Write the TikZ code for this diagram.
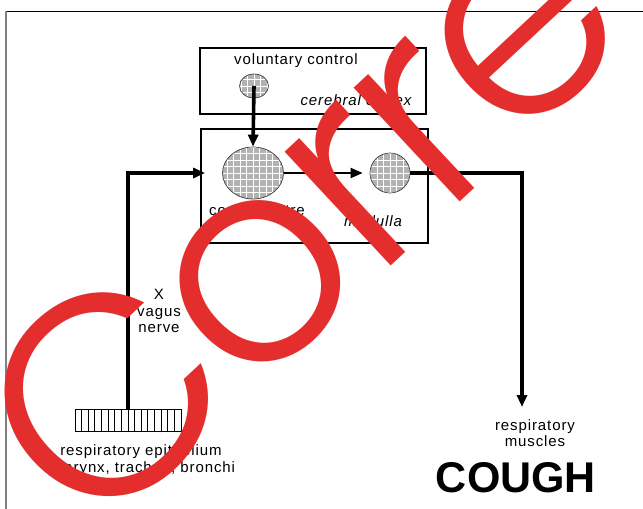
\documentclass[tikz,border=0pt]{standalone}
\usepackage{fontspec}
\setmainfont{Liberation Sans}
\newfontfamily\lblfont{Liberation Sans}[LetterSpace=6]
\newfontfamily\stampfont{Poppins Light}[LetterSpace=-3]
\usepackage{tikz}
\usetikzlibrary{arrows.meta,shapes.geometric}
\definecolor{stampred}{RGB}{228,45,45}
\tikzset{
  >={Triangle[length=12pt,width=10pt]},
  box/.style={rectangle,draw,line width=2pt,inner sep=0pt},
  hatch/.style={ellipse,draw=black!75,line width=0.7pt,inner sep=0pt,
    path picture={
      \fill[gray!60] (path picture bounding box.south west) rectangle (path picture bounding box.north east);
      \foreach \k in {-6,...,6}{
        \draw[white,line width=0.9pt] ([xshift=\k*6.5pt]path picture bounding box.center) ++(0pt,-40pt) -- ++(0pt,80pt);
        \draw[white,line width=0.9pt] ([yshift=\k*6.5pt]path picture bounding box.center) ++(-40pt,0pt) -- ++(80pt,0pt);
      }}},
  lbl/.style={font=\lblfont\fontsize{15}{16.5}\selectfont,inner sep=0pt},
  nerve/.style={line width=3.6pt},
  every picture/.style={line width=0.5pt},
}

\begin{document}
\begin{tikzpicture}[x=1pt,y=-1pt]
\useasboundingbox (0,0) rectangle (643,509);
\draw[black,line width=1pt] (5,11) -- (643,11);
\draw[gray,line width=2pt] (5.5,11) -- (5.5,509);
% brain
\node[box,minimum width=226pt,minimum height=66pt] (cortex) at (313,81){};
\node[box,minimum width=227pt,minimum height=114pt] (medulla) at (314.5,186){};
\node[hatch,minimum width=29pt,minimum height=24pt] (vol) at (254,86){};
\node[hatch,minimum width=61pt,minimum height=52pt] (cc) at (253,173){};
\node[hatch,minimum width=40pt,minimum height=40pt] (mot) at (390,173){};
\node[lbl] (volt) at (296,61){voluntary control};
\node[lbl,font=\lblfont\itshape\fontsize{15}{16.5}\selectfont] (cortext) at (356,100){cerebral cortex};
\node[lbl] (cct) at (257,212){cough centre};
\node[lbl,font=\lblfont\itshape\fontsize{15}{16.5}\selectfont] (medt) at (373,221){medulla};
% receptors
\node[rectangle,draw,line width=0.8pt,minimum width=106pt,minimum height=22pt,inner sep=0pt,
  path picture={\foreach \k in {1,...,15}{
    \draw[line width=0.8pt] ([xshift=\k*6.625pt]path picture bounding box.north west) -- ([xshift=\k*6.625pt]path picture bounding box.south west);}}]
  (epi) at (128,420.5){};
\node[lbl,align=left,anchor=west] (epit) at (60,460){respiratory epithelium\\larynx, trachea, bronchi};
\node[lbl,align=center] (vagt) at (159,311){X\\vagus\\nerve};
\node[lbl,align=center] (musct) at (535,433){respiratory\\muscles};
\node[font=\bfseries\fontsize{43}{43}\selectfont,inner sep=0pt] (cough) at (516,478){COUGH};
\coordinate (out) at (522,407);
% pathways
\draw[nerve,->] (epi.north) |- ([xshift=-17pt]cc.west);
\draw[nerve,->] (vol.center) -- (cc.north);
\draw[line width=2pt,->,shorten >=7pt] (cc.east) -- (mot.west);
\draw[nerve,->] (mot.east) -| (out);
% stamp
\node[rotate=43,anchor=base west,inner sep=0pt,text=stampred,font=\stampfont\fontsize{285}{285}\selectfont] (stamp) at (92,545){Correct};
\end{tikzpicture}
\end{document}
